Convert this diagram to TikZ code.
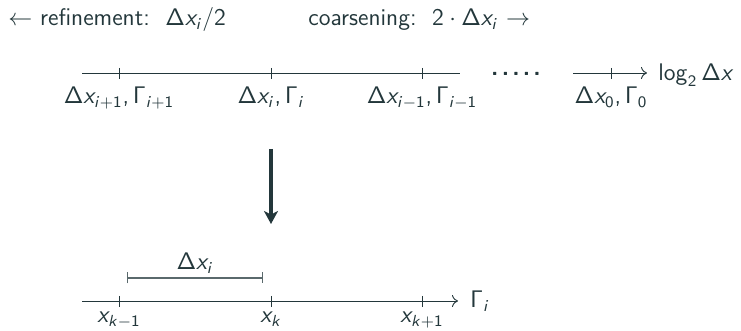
\documentclass[tikz,border=0pt]{standalone}
\usepackage{amsmath}
\DeclareSymbolFont{operators}{OT1}{cmss}{m}{n}
\DeclareSymbolFont{letters}{OT1}{cmss}{m}{it}
\DeclareMathSymbol{,}{\mathpunct}{operators}{"2C}
\DeclareMathSymbol{/}{\mathord}{operators}{"2F}
\usetikzlibrary{arrows.meta,positioning}
\definecolor{mInk}{HTML}{23373B}
\tikzset{
  axis/.style     ={draw=mInk,line width=0.45pt},
  axisarr/.style  ={axis,-{To[length=3pt,width=6pt]}},
  tickmark/.style ={draw=mInk,line width=0.45pt},
  span/.style     ={draw=mInk!75,line width=0.6pt,{Bar[width=5.5pt]}-{Bar[width=5.5pt]}},
  bigarr/.style   ={-{Stealth[length=6.5pt,width=7pt,inset=1.8pt]},mInk,line width=1.6pt},
  lbl/.style      ={text=mInk,inner sep=0pt},
  endlbl/.style   ={text=mInk,inner sep=0pt},
}

\begin{document}
\begin{tikzpicture}[x=0.5pt,y=-0.5pt,font=\sffamily\fontsize{12}{14}\selectfont]
\useasboundingbox (0,0) rectangle (741,331);

%% heading
\node[lbl,anchor=base west] (refine) at (8,26) {$\leftarrow$ refinement:\ \ $\Delta x_i/2$};
\node[lbl,anchor=base west] (coarse) at (308,26) {coarsening:\ \ $2\cdot\Delta x_i$ $\rightarrow$};

%% resolution axis
\coordinate (sa) at (82,73);
\coordinate (sb) at (460,73);
\draw[axis] (sa) -- (sb);
\foreach \n/\x/\t in {p/119/{\Delta x_{i+1},\Gamma_{i+1}},
                      c/271/{\Delta x_i,\Gamma_i},
                      m/422/{\Delta x_{i-1},\Gamma_{i-1}}}{
  \coordinate (t\n) at (\x,73);
  \draw[tickmark] (t\n) ++(0,-5) -- ++(0,11);
  \node[lbl,anchor=base] (s\n) at (\x,104) {$\t$};
}
\node[lbl,anchor=base] (dots) at (516,76) {\bfseries .\kern1.6pt.\kern1.6pt.\kern1.6pt.\kern1.6pt.};

\coordinate (za) at (573,73);
\coordinate (zb) at (647,73);
\coordinate (t0) at (611,73);
\draw[axisarr] (za) -- (zb);
\draw[tickmark] (t0) ++(0,-5) -- ++(0,11);
\node[lbl,anchor=base] (s0) at (t0 |- sp.base) {$\Delta x_0,\Gamma_0$};
\node[endlbl,anchor=base west] (logdx) at (658,81) {$\log_2\Delta x$};

%% zoom into one level
\coordinate (dtop) at (271,149);
\coordinate (dbot) at (271,224);
\draw[bigarr] (dtop) -- (dbot);

%% grid axis
\coordinate (ga) at (82,301);
\coordinate (gb) at (458,301);
\draw[axisarr] (ga) -- (gb);
\foreach \n/\x/\t in {a/119/{x_{k-1}}, b/271/{x_k}, c/422/{x_{k+1}}}{
  \coordinate (g\n) at (\x,301);
  \draw[tickmark] (g\n) ++(0,-5) -- ++(0,11);
  \node[lbl,anchor=base] (x\n) at (\x,323) {$\t$};
}
\node[endlbl,anchor=base west] (gam) at (470,308) {$\Gamma_i$};

%% cell width
\coordinate (wa) at (127,278);
\coordinate (wb) at (263,278);
\draw[span] (wa) -- (wb);
\node[lbl,anchor=base] (wlbl) at (195,270) {$\Delta x_i$};
\end{tikzpicture}
\end{document}
